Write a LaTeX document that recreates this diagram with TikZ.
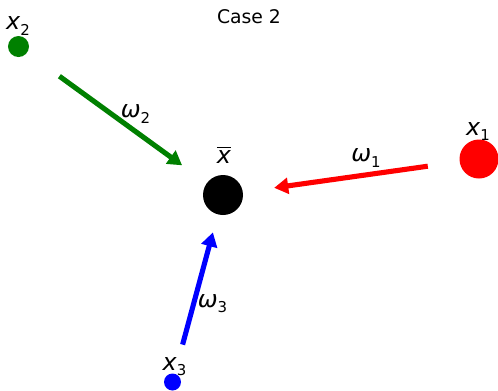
\documentclass[tikz,border=0pt]{standalone}
\usepackage{fontspec}
\setmainfont{DejaVu Sans}
\usepackage{tikz}
\usetikzlibrary{arrows.meta, calc}

\definecolor{mgreen}{RGB}{0,128,0}
\newcommand{\subidx}[1]{\raisebox{-0.4ex}{\fontsize{8.5}{10}\selectfont\upshape #1}}

\begin{document}
\begin{tikzpicture}[
        x=0.02cm, y=-0.02cm,
        point/.style={circle, inner sep=0pt, draw=none},
        lbl/.style={inner sep=0pt, font=\fontsize{13.5}{16}\selectfont\itshape},
        weight/.style={-{Triangle[length=8pt, width=9pt]}, line width=2.9pt},
        ]
        \useasboundingbox (0,0) rectangle (498,390);

        % Title
        \node[font=\fontsize{10.7}{12}\selectfont] (title) at (249,16.5) {Case 2};

        % Points
        \node[point, fill=black, minimum size=40*0.02cm] (xbar) at (223,195) {};
        \node[point, fill=red, minimum size=39*0.02cm] (x1) at (479,159) {};
        \node[point, fill=mgreen, minimum size=21*0.02cm] (x2) at (18.5,46.5) {};
        \node[point, fill=blue, minimum size=17*0.02cm] (x3) at (172.5,382) {};

        % Point labels
        \node[lbl] (lxbar) at (224,155) {$\overline{\hbox{\itshape x}}$};
        \node[lbl] (lx1) at (478,131.5) {x\subidx{1}};
        \node[lbl] (lx2) at (18,26) {x\subidx{2}};
        \node[lbl] (lx3) at (174.5,367) {x\subidx{3}};

        % Weight arrows
        \draw[weight, red] ($(x1)!0.2!(xbar)$) -- ($(x1)!0.8!(xbar)$);
        \draw[weight, mgreen] ($(x2)!0.2!(xbar)$) -- ($(x2)!0.8!(xbar)$);
        \draw[weight, blue] ($(x3)!0.2!(xbar)$) -- ($(x3)!0.8!(xbar)$);

        % Weight labels
        \node[lbl] (w1) at (366,158) {ω\subidx{1}};
        \node[lbl] (w2) at (135.5,114) {ω\subidx{2}};
        \node[lbl] (w3) at (212.5,303.5) {ω\subidx{3}};

    \end{tikzpicture}
\end{document}
